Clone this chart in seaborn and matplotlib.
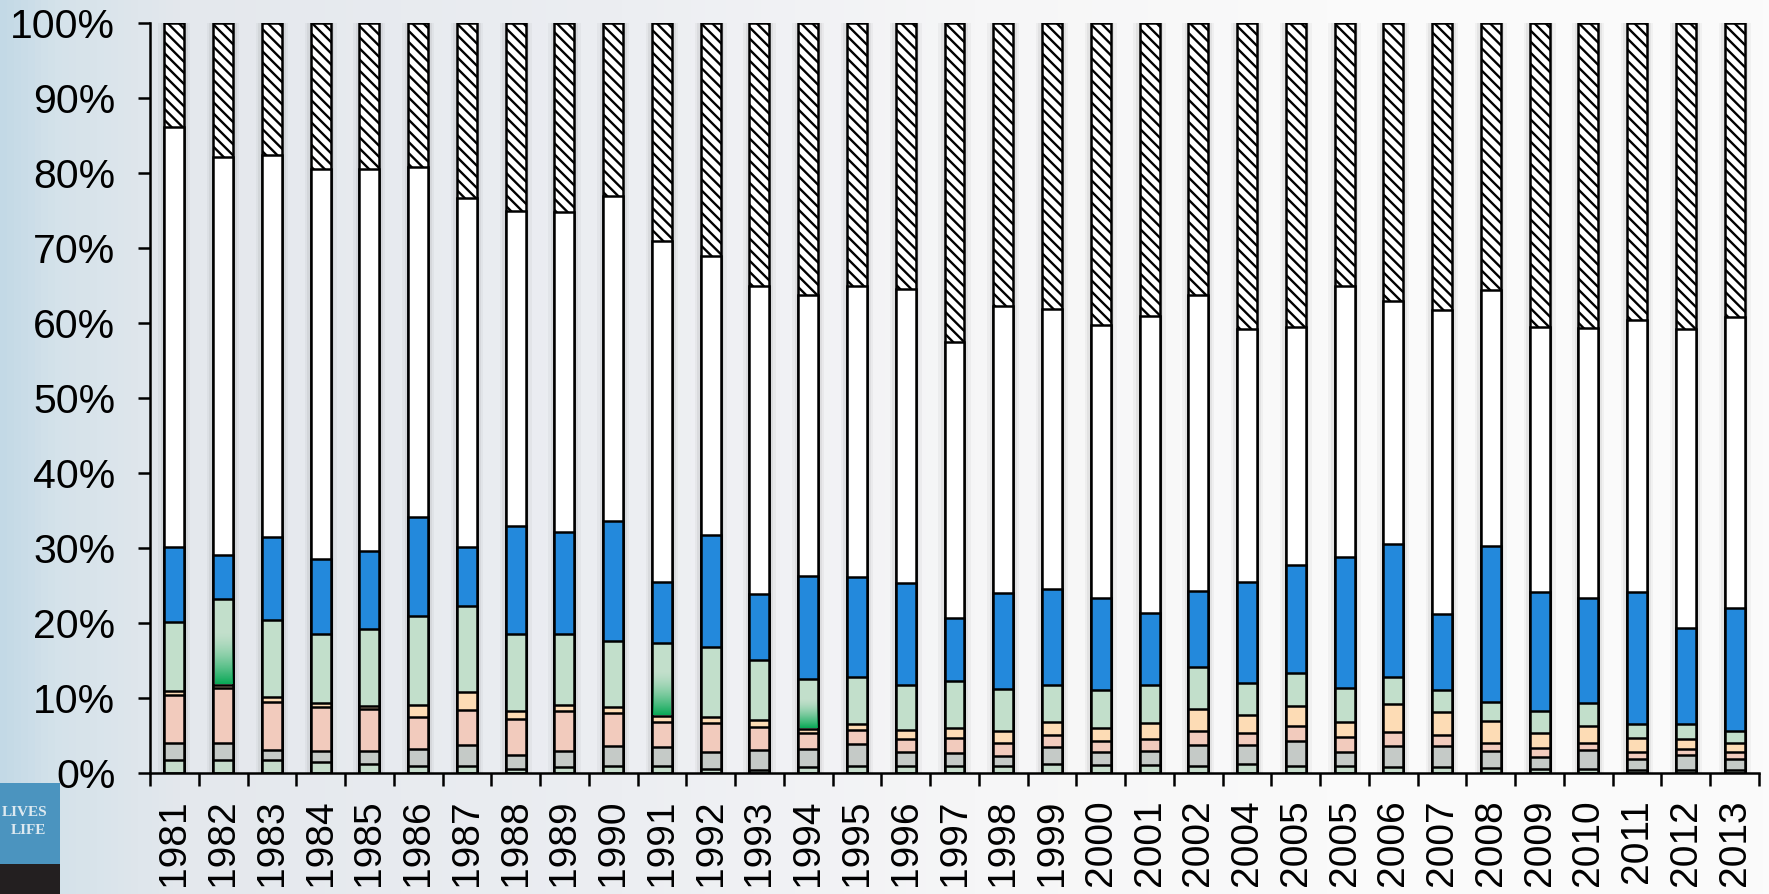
import numpy as np
import seaborn as sns
import matplotlib.pyplot as plt
from matplotlib.colors import LinearSegmentedColormap, to_rgb
from matplotlib.patches import Rectangle

# Years on the axis (2003 missing, 2005 appears twice)
years = ['1981', '1982', '1983', '1984', '1985', '1986', '1987', '1988', '1989', '1990',
         '1991', '1992', '1993', '1994', '1995', '1996', '1997', '1998', '1999', '2000',
         '2001', '2002', '2004', '2005', '2005', '2006', '2007', '2008', '2009', '2010',
         '2011', '2012', '2013']

# Cumulative top of each layer (percent), bottom layer first
top_green_base = [1.7, 1.8, 1.7, 1.5, 1.2, 1.0, 1.0, 0.6, 0.8, 1.0, 1.0, 0.6, 0.4, 0.8, 1.0, 0.9, 0.9,
                  0.9, 1.2, 1.1, 1.1, 1.0, 1.2, 1.0, 1.0, 0.8, 0.8, 0.7, 0.5, 0.6, 0.4, 0.4, 0.4]
top_grey = [4.0, 4.0, 3.1, 2.9, 2.9, 3.2, 3.7, 2.4, 3.0, 3.6, 3.5, 2.8, 3.1, 3.2, 3.9, 2.8, 2.7,
            2.3, 3.5, 2.8, 2.9, 3.8, 3.7, 4.3, 2.8, 3.6, 3.6, 3.0, 2.1, 3.1, 1.9, 2.4, 1.9]
top_salmon = [10.4, 11.3, 9.5, 8.8, 8.5, 7.5, 8.4, 7.2, 8.3, 8.0, 6.8, 6.7, 6.2, 5.3, 5.8, 4.6, 4.7,
              4.0, 5.1, 4.3, 4.5, 5.6, 5.4, 6.3, 4.8, 5.5, 5.1, 4.0, 3.4, 4.0, 2.8, 3.2, 2.8]
top_peach = [10.9, 11.7, 10.2, 9.3, 8.9, 9.1, 10.8, 8.3, 9.1, 8.8, 7.6, 7.5, 7.1, 5.9, 6.5, 5.7, 6.0,
             5.6, 6.8, 6.0, 6.7, 8.5, 7.7, 8.9, 6.8, 9.2, 8.1, 6.9, 5.4, 6.3, 4.7, 4.6, 4.0]
top_green = [20.1, 23.2, 20.4, 18.6, 19.2, 21.0, 22.3, 18.6, 18.6, 17.6, 17.3, 16.8, 15.1, 12.5,
             12.8, 11.8, 12.3, 11.2, 11.8, 11.1, 11.8, 14.2, 12.0, 13.4, 11.4, 12.8, 11.1, 9.5,
             8.3, 9.3, 6.6, 6.5, 5.6]
top_blue = [30.2, 29.1, 31.5, 28.6, 29.6, 34.1, 30.2, 33.0, 32.1, 33.6, 25.5, 31.7, 23.9, 26.3,
            26.1, 25.4, 20.7, 24.0, 24.5, 23.3, 21.3, 24.3, 25.5, 27.8, 28.8, 30.6, 21.2, 30.3,
            24.2, 23.3, 24.2, 19.4, 22.0]
top_white = [86.2, 82.1, 82.4, 80.5, 80.5, 80.8, 76.7, 74.9, 74.8, 76.9, 71.0, 68.9, 65.0, 63.7,
             65.0, 64.6, 57.5, 62.3, 61.9, 59.8, 61.0, 63.7, 59.2, 59.5, 65.0, 62.9, 61.7, 64.4,
             59.5, 59.3, 60.4, 59.2, 60.8]
top_hatched = [100] * len(years)

# bars whose green segment has a darker gradient at the bottom
gradient_bars = ['1982', '1991', '1994']

sns.set_theme(style='ticks')
plt.rcParams['font.family'] = ['Liberation Sans', 'DejaVu Sans']
plt.rcParams['hatch.linewidth'] = 1.7

fig = plt.figure(figsize=(17.69, 8.94), dpi=100)

# slide-like background gradient
bg = fig.add_axes([0, 0, 1, 1], zorder=-10)
bg_cmap = LinearSegmentedColormap.from_list('bg', [
    (0.0, '#c3d9e6'), (0.03, '#d4e2ea'), (0.1, '#e4e8ed'), (0.35, '#eceef2'),
    (0.55, '#f6f6f7'), (0.75, '#fafafa'), (1.0, '#fbfbfb')])
bg.imshow(np.linspace(0, 1, 512)[None, :], cmap=bg_cmap, aspect='auto', extent=[0, 1, 0, 1])
bg.axis('off')

# logo remnant bottom left
fig.patches.append(Rectangle((0, 30 / 894), 60 / 1769, 81 / 894, transform=fig.transFigure,
                             facecolor='#4b94bf', edgecolor='none'))
fig.patches.append(Rectangle((0, 0), 60 / 1769, 30 / 894, transform=fig.transFigure,
                             facecolor='#231f20', edgecolor='none'))
fig.text(47 / 1769, 1 - 812 / 894, 'LIVES', ha='right', va='center', fontsize=11,
         color='#dde9f0', family='Liberation Serif', weight='bold')
fig.text(46 / 1769, 1 - 831 / 894, 'LIFE', ha='right', va='center', fontsize=11,
         color='#dde9f0', family='Liberation Serif', weight='bold')

ax = fig.add_axes([150 / 1769, 1 - 773 / 894, 1609 / 1769, 750 / 894])
ax.patch.set_alpha(0)

idx = list(range(len(years)))
bar_w = 0.41

# soft shadow behind the bars
for w, a in [(0.66, 0.05), (0.56, 0.08)]:
    sns.barplot(x=idx, y=top_hatched, color='#555555', alpha=a, width=w, saturation=1,
                linewidth=0, errorbar=None, ax=ax)

layers = [
    (top_hatched, '#ffffff', '\\\\\\'),
    (top_white, '#ffffff', None),
    (top_blue, '#2389dc', None),
    (top_green, '#c2dfcb', None),
    (top_peach, '#fddcb5', None),
    (top_salmon, '#f2cbbd', None),
    (top_grey, '#c5cac7', None),
    (top_green_base, '#c5dccb', None),
]
for tops, color, hatch in layers:
    sns.barplot(x=idx, y=tops, color=color, edgecolor='black', linewidth=1.8, width=bar_w,
                saturation=1, hatch=hatch, errorbar=None, ax=ax)

# darker green gradient at the bottom of some green segments
dark = to_rgb('#00a651')
grad = np.zeros((100, 2, 4))
grad[..., :3] = dark
alpha_col = np.clip(1 - np.linspace(0, 1, 100) * 1.6, 0, 1) ** 1.5 * 0.95
grad[..., 3] = alpha_col[:, None]
for yr in gradient_bars:
    i = years.index(yr)
    y0 = top_peach[i] + 0.15
    y1 = top_green[i] - 0.2
    ax.imshow(grad, origin='lower', aspect='auto', zorder=3,
              extent=[i - bar_w / 2 + 0.03, i + bar_w / 2 - 0.03, y0, y1])

ax.set_xlim(-0.5, len(years) - 0.5)
ax.set_ylim(0, 100)

ax.set_xticks(idx)
ax.set_xticklabels(years, rotation=90, fontsize=28, color='black')
ax.set_xticks(np.arange(-0.5, len(years), 1), minor=True)
ax.tick_params(axis='x', which='major', length=0, pad=19)
ax.tick_params(axis='x', which='minor', length=9, width=1.8, color='black', bottom=True)

ax.set_yticks(range(0, 101, 10))
ax.set_yticklabels([f'{v}%' for v in range(0, 101, 10)], fontsize=29.5, color='black')
ax.tick_params(axis='y', length=9, width=1.8, color='black', pad=16)

ax.set_xlabel('')
ax.set_ylabel('')
sns.despine(ax=ax)
for s in ['left', 'bottom']:
    ax.spines[s].set_color('black')
    ax.spines[s].set_linewidth(1.8)

fig.savefig('out.png', dpi=100)
